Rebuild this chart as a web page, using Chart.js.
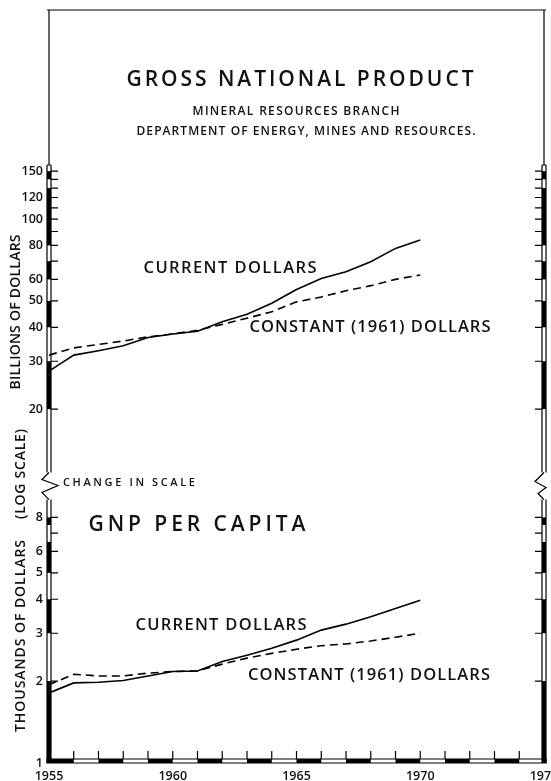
<!DOCTYPE html>
<html lang="en">
<head>
<meta charset="UTF-8" />
<title>Gross National Product</title>
<script src="https://cdn.jsdelivr.net/npm/chart.js"></script>
<style>
  html, body { margin: 0; padding: 0; background: #fff; }
  canvas { display: block; }
</style>
</head>
<body>
<canvas id="chart" width="551" height="781"></canvas>
<script>
const years = [1955,1956,1957,1958,1959,1960,1961,1962,1963,1964,1965,1966,1967,1968,1969,1970];
// billions of dollars
const gnpCurrent  = [27.6,31.6,32.8,34.2,36.7,37.8,38.7,41.9,44.7,49.0,55.1,60.5,64.0,69.7,78.0,83.7];
const gnpConstant = [31.6,33.6,34.6,35.6,36.9,37.8,39.0,41.0,43.2,45.6,49.6,51.7,54.5,56.9,60.0,62.3];
// thousands of dollars per person
const capCurrent  = [1.81,1.97,1.98,2.01,2.09,2.17,2.18,2.36,2.49,2.64,2.83,3.08,3.24,3.45,3.70,3.97];
const capConstant = [1.94,2.12,2.09,2.09,2.14,2.17,2.18,2.31,2.43,2.53,2.62,2.70,2.74,2.81,2.90,3.00];

const upperTicks = [20,30,40,50,60,80,100,120,150];
const upperMinorTicks = [70,90,110,130,140];
const lowerTicks = [1,2,3,4,5,6,8];
const lowerMinorTicks = [7];
const yearTicks = [1955,1960,1965,1970,1975];

const FONT = '"Open Sans", Lato, sans-serif';

function series(vals, dashed) {
  return {
    data: years.map((yr, i) => ({ x: yr, y: vals[i] })),
    borderColor: '#000',
    borderWidth: 1.6,
    borderDash: dashed ? [8, 5] : [],
    pointRadius: 0,
    tension: 0,
    fill: false
  };
}

// draw text stretched to a given width (letter spaced like the original lettering)
function fitText(ctx, text, cx, cy, width, font) {
  ctx.font = font;
  ctx.letterSpacing = '0px';
  const w = ctx.measureText(text).width;
  const ls = text.length > 1 ? (width - w) / (text.length - 1) : 0;
  ctx.letterSpacing = ls + 'px';
  ctx.textAlign = 'left';
  ctx.textBaseline = 'middle';
  ctx.fillText(text, cx - width / 2, cy);
  ctx.letterSpacing = '0px';
}

const paperPlugin = {
  id: 'paper',
  afterDraw(chart) {
    const { ctx, chartArea: a, scales: { x, y } } = chart;
    const L = a.left, R = a.right, T = a.top, B = a.bottom;
    const Y = v => y.getPixelForValue(v);
    const X = v => x.getPixelForValue(v);
    const breakTop = Y(11.7), breakBot = Y(9.3), barTop = Y(158);
    ctx.save();
    ctx.strokeStyle = '#000';
    ctx.fillStyle = '#000';
    ctx.lineWidth = 1.2;

    // top border
    ctx.beginPath();
    ctx.moveTo(L - 2, T); ctx.lineTo(R + 2, T);
    ctx.stroke();

    const upperBands = [[140,150],[80,130],[60,70],[40,50],[20,30]];
    const lowerBands = [[7.5,8],[5,6.5],[3,4],[1,2]];

    [L, R].forEach(ax => {
      // thin line above the scale bar
      ctx.beginPath();
      ctx.moveTo(ax, T); ctx.lineTo(ax, barTop);
      ctx.stroke();
      // outline of the scale bar
      ctx.beginPath();
      ctx.moveTo(ax - 2, barTop); ctx.lineTo(ax - 2, breakTop);
      ctx.moveTo(ax + 2, barTop); ctx.lineTo(ax + 2, breakTop);
      ctx.moveTo(ax - 2, barTop); ctx.lineTo(ax + 2, barTop);
      ctx.moveTo(ax - 2, breakBot); ctx.lineTo(ax - 2, B);
      ctx.moveTo(ax + 2, breakBot); ctx.lineTo(ax + 2, B);
      ctx.stroke();
      upperBands.concat(lowerBands).forEach(([lo, hi]) => {
        ctx.fillRect(ax - 2, Y(hi), 4, Y(lo) - Y(hi));
      });
      // ticks pointing inward
      const dir = ax === L ? 1 : -1;
      ctx.beginPath();
      upperTicks.concat(upperMinorTicks, lowerTicks, lowerMinorTicks).forEach(v => {
        if (v === 1) return;
        ctx.moveTo(ax + dir * 2, Y(v));
        ctx.lineTo(ax + dir * 9, Y(v));
      });
      ctx.stroke();
    });

    // change of scale zigzags
    ctx.beginPath();
    ctx.moveTo(L, breakTop);
    ctx.lineTo(L - 7, breakTop + 7);
    ctx.lineTo(L + 9, breakTop + 13);
    ctx.lineTo(L - 7, breakTop + 20);
    ctx.lineTo(L, breakBot);
    ctx.moveTo(R, breakTop);
    ctx.lineTo(R - 9, breakTop + 9);
    ctx.lineTo(R + 2, breakTop + 15);
    ctx.lineTo(R - 6, breakTop + 21);
    ctx.lineTo(R, breakBot);
    ctx.stroke();

    // bottom scale bar with yearly ticks
    ctx.beginPath();
    ctx.rect(L - 2, B - 4, R - L + 4, 4);
    for (let yr = yearTicks[0] + 1; yr < yearTicks[yearTicks.length - 1]; yr++) {
      ctx.moveTo(X(yr), B - 4);
      ctx.lineTo(X(yr), B - 12);
    }
    ctx.stroke();
    for (let yr = yearTicks[0]; yr < yearTicks[yearTicks.length - 1]; yr += 2) {
      ctx.fillRect(X(yr), B - 4, X(yr + 1) - X(yr), 4);
    }

    // tick labels
    ctx.fillStyle = '#111';
    ctx.font = '600 12.5px ' + FONT;
    ctx.textAlign = 'right';
    ctx.textBaseline = 'middle';
    upperTicks.concat(lowerTicks).forEach(v => ctx.fillText(String(v), L - 6, Y(v)));
    ctx.textAlign = 'center';
    yearTicks.forEach(yr => ctx.fillText(String(yr), X(yr), B + 13));

    // titles and labels
    fitText(ctx, 'GROSS NATIONAL PRODUCT', 300, 80, 347, '600 21px ' + FONT);
    fitText(ctx, 'MINERAL RESOURCES BRANCH', 296, 112, 207, '600 12px ' + FONT);
    fitText(ctx, 'DEPARTMENT OF ENERGY, MINES AND RESOURCES.', 306, 132, 339, '600 12px ' + FONT);

    fitText(ctx, 'CURRENT DOLLARS', 230, 268, 173, '600 16.5px ' + FONT);
    fitText(ctx, 'CONSTANT (1961) DOLLARS', 370, 327, 241, '600 16.5px ' + FONT);
    fitText(ctx, 'CHANGE IN SCALE', 129, 483, 132, '600 11px ' + FONT);
    fitText(ctx, 'GNP PER CAPITA', 197, 525, 217, '600 21px ' + FONT);
    fitText(ctx, 'CURRENT DOLLARS', 221, 625, 171, '600 16.5px ' + FONT);
    fitText(ctx, 'CONSTANT (1961) DOLLARS', 369, 675, 242, '600 16.5px ' + FONT);

    // rotated axis titles
    const vtext = (text, cx, cy, len) => {
      ctx.save();
      ctx.translate(cx, cy);
      ctx.rotate(-Math.PI / 2);
      fitText(ctx, text, 0, 0, len, '600 14px ' + FONT);
      ctx.restore();
    };
    vtext('BILLIONS OF DOLLARS', 16, 312, 155);
    vtext('(LOG SCALE)', 21, 474, 90);
    vtext('THOUSANDS OF DOLLARS', 21, 636, 192);

    ctx.restore();
  }
};

new Chart(document.getElementById('chart').getContext('2d'), {
  type: 'line',
  data: {
    datasets: [
      series(gnpCurrent, false),
      series(gnpConstant, true),
      series(capCurrent, false),
      series(capConstant, true)
    ]
  },
  options: {
    responsive: false,
    animation: false,
    devicePixelRatio: 1,
    layout: { padding: { left: 49, right: 7, top: 10, bottom: 18 } },
    scales: {
      x: { type: 'linear', min: 1955, max: 1975, display: false },
      y: { type: 'logarithmic', min: 1, max: 587, display: false }
    },
    plugins: { legend: { display: false }, tooltip: { enabled: false } }
  },
  plugins: [paperPlugin]
});
</script>
</body>
</html>
